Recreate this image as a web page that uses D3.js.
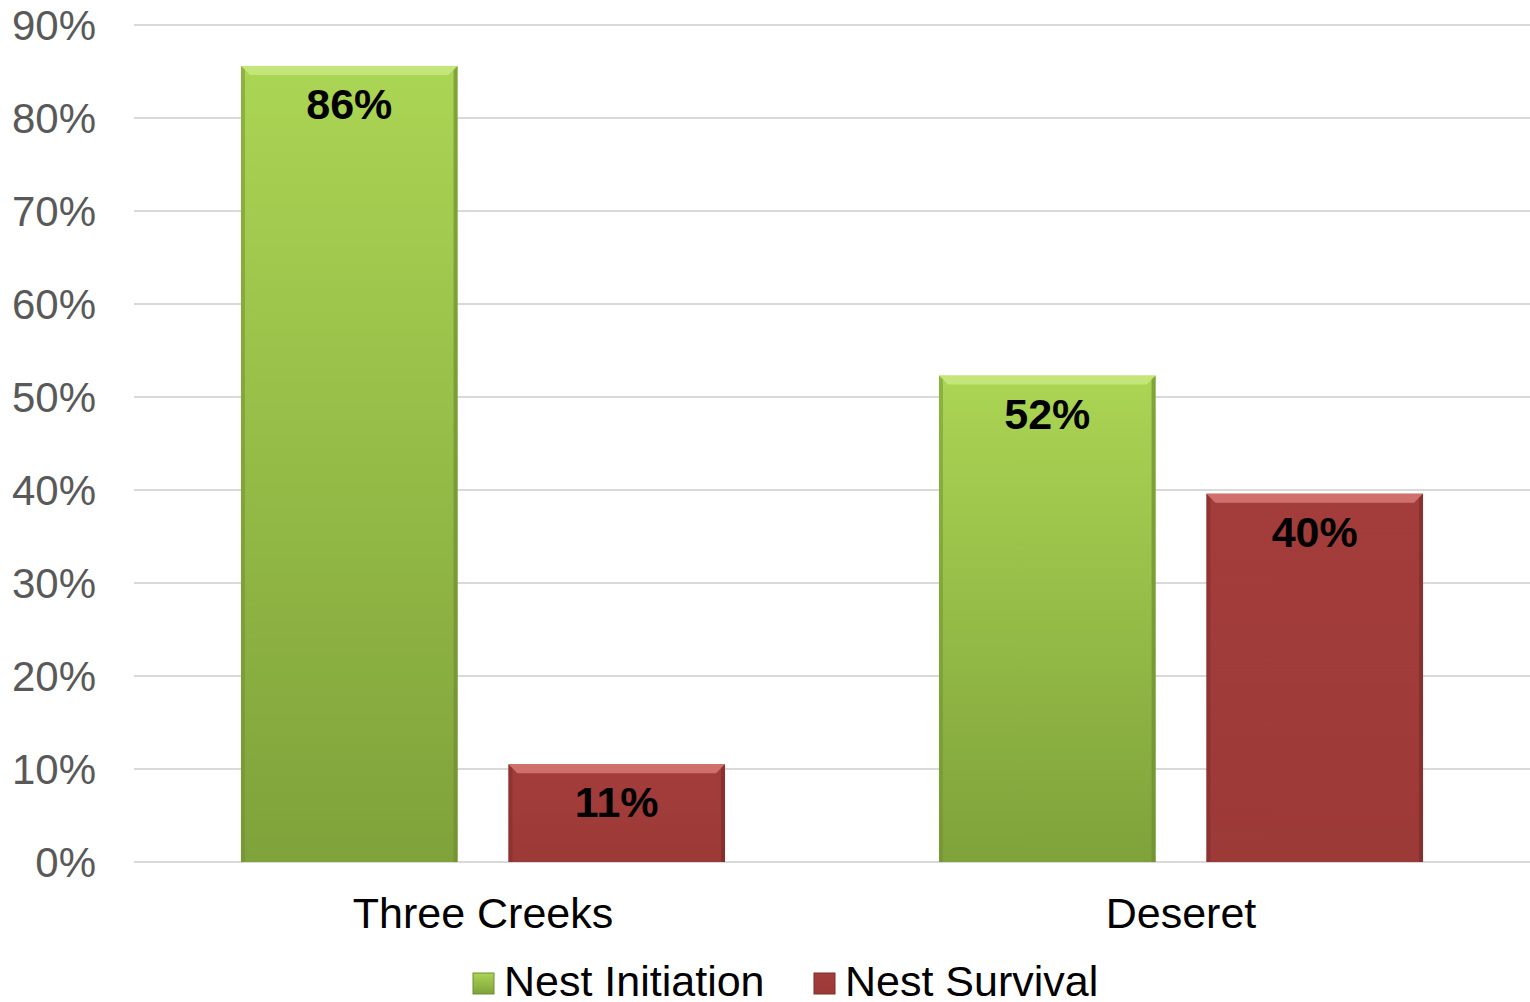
<!DOCTYPE html>
<html>
<head>
<meta charset="utf-8">
<script src="https://cdn.jsdelivr.net/npm/d3@7"></script>
<style>
  body { margin: 0; background: #fff; }
  text { font-family: "Liberation Sans", Arial, sans-serif; }
</style>
</head>
<body>
<div id="chart"></div>
<script>
// Data
var categories = ["Three Creeks", "Deseret"];
var seriesNames = ["Nest Initiation", "Nest Survival"];
var nestInitiation = [0.856, 0.523];
var nestSurvival = [0.105, 0.396];
var valueLabels = [["86%", "11%"], ["52%", "40%"]];
var yTicks = [0, 0.1, 0.2, 0.3, 0.4, 0.5, 0.6, 0.7, 0.8, 0.9];

var width = 1530, height = 1002;
var margin = {top: 25, right: 0, bottom: 140, left: 134};
var innerW = width - margin.left - margin.right,
    innerH = 862 - margin.top;

var svg = d3.select("#chart").append("svg")
    .attr("width", width)
    .attr("height", height);

// Gradients
var defs = svg.append("defs");
var gGreen = defs.append("linearGradient").attr("id", "gradGreen")
    .attr("x1", 0).attr("y1", 0).attr("x2", 0).attr("y2", 1);
gGreen.append("stop").attr("offset", "0%").attr("stop-color", "#abd554");
gGreen.append("stop").attr("offset", "100%").attr("stop-color", "#7fa23a");
var gRed = defs.append("linearGradient").attr("id", "gradRed")
    .attr("x1", 0).attr("y1", 0).attr("x2", 0).attr("y2", 1);
gRed.append("stop").attr("offset", "0%").attr("stop-color", "#a33d3b");
gRed.append("stop").attr("offset", "100%").attr("stop-color", "#9c3a38");

var fills = ["url(#gradGreen)", "url(#gradRed)"];
var lightEdge = ["#c4e57a", "#d0706c"];
var darkEdge = ["#6f8e30", "#7e2c2a"];

var g = svg.append("g")
    .attr("transform", "translate(" + margin.left + "," + margin.top + ")");

// Scales
var x0 = d3.scaleBand().domain(categories).range([0, innerW]);
var x1 = d3.scaleBand().domain(seriesNames).range([0, x0.bandwidth()])
    .paddingInner(0.19).paddingOuter(0.40);
var y = d3.scaleLinear().domain([0, 0.9]).range([innerH, 0]);

// Gridlines
g.selectAll(".grid").data(yTicks).enter().append("line")
    .attr("x1", 0).attr("x2", innerW)
    .attr("y1", d => y(d)).attr("y2", d => y(d))
    .attr("stroke", "#d9d9d9").attr("stroke-width", 2);

// Y axis labels
g.selectAll(".ytick").data(yTicks).enter().append("text")
    .attr("x", -38)
    .attr("y", d => y(d) + 15)
    .attr("text-anchor", "end")
    .style("font-size", "42px")
    .style("fill", "#595959")
    .text(d => d3.format(".0%")(d));

// Build rows
var rows = categories.map((c, i) => ({
    cat: c,
    vals: [nestInitiation[i], nestSurvival[i]],
    labels: valueLabels[i]
}));

var groups = g.selectAll(".cat").data(rows).enter().append("g")
    .attr("transform", d => "translate(" + x0(d.cat) + ",0)");

var bars = groups.selectAll(".bar")
    .data(d => d.vals.map((v, j) => ({key: seriesNames[j], j: j, v: v, label: d.labels[j]})))
    .enter().append("g");

var bw = x1.bandwidth(), bev = 9;

bars.append("rect")
    .attr("x", d => x1(d.key))
    .attr("y", d => y(d.v))
    .attr("width", bw)
    .attr("height", d => innerH - y(d.v))
    .attr("fill", d => fills[d.j]);

// bevel: top light strip
bars.append("path")
    .attr("d", d => {
        var xl = x1(d.key), xr = xl + bw, yt = y(d.v);
        return "M" + xl + "," + yt + "L" + xr + "," + yt + "L" + (xr - bev) + "," + (yt + bev) + "L" + (xl + bev) + "," + (yt + bev) + "Z";
    })
    .attr("fill", d => lightEdge[d.j]);

// bevel: side darker edges
bars.append("path")
    .attr("d", d => {
        var xl = x1(d.key), yt = y(d.v);
        return "M" + xl + "," + yt + "L" + (xl + 4) + "," + (yt + 4) + "L" + (xl + 4) + "," + innerH + "L" + xl + "," + innerH + "Z";
    })
    .attr("fill", d => darkEdge[d.j]).attr("opacity", 0.5);
bars.append("path")
    .attr("d", d => {
        var xr = x1(d.key) + bw, yt = y(d.v);
        return "M" + xr + "," + yt + "L" + (xr - 4) + "," + (yt + 4) + "L" + (xr - 4) + "," + innerH + "L" + xr + "," + innerH + "Z";
    })
    .attr("fill", d => darkEdge[d.j]).attr("opacity", 0.7);

// Value labels
bars.append("text")
    .attr("x", d => x1(d.key) + bw / 2)
    .attr("y", d => y(d.v) + 53)
    .attr("text-anchor", "middle")
    .style("font-size", "43px")
    .style("font-weight", "bold")
    .style("fill", "#000")
    .text(d => d.label);

// Category labels
g.selectAll(".xlab").data(categories).enter().append("text")
    .attr("x", d => x0(d) + x0.bandwidth() / 2)
    .attr("y", innerH + 66)
    .attr("text-anchor", "middle")
    .style("font-size", "43px")
    .style("fill", "#000")
    .text(d => d);

// Legend
var legendX = [473, 814];
var legend = svg.selectAll(".legend").data(seriesNames).enter().append("g")
    .attr("transform", (d, i) => "translate(" + legendX[i] + ",973)");
legend.append("rect")
    .attr("width", 21).attr("height", 21)
    .attr("fill", (d, i) => fills[i])
    .attr("stroke", (d, i) => darkEdge[i]).attr("stroke-width", 1);
legend.append("text")
    .attr("x", 31).attr("y", 23)
    .style("font-size", "43px")
    .style("fill", "#000")
    .text(d => d);
</script>
</body>
</html>
